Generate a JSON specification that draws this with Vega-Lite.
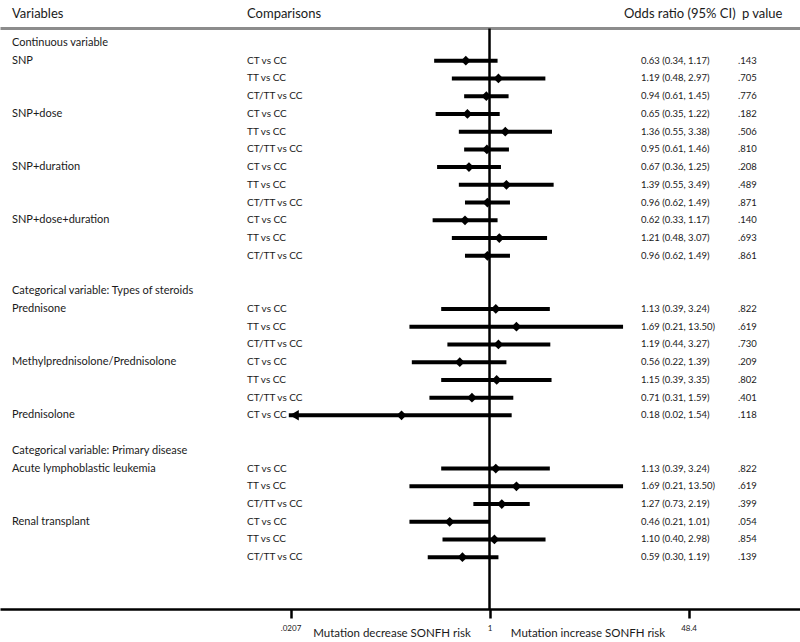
{
  "$schema": "https://vega.github.io/schema/vega-lite/v6.json",
  "width": 800,
  "height": 609,
  "autosize": {"type": "none"},
  "padding": {"left": 0, "top": 0, "right": 0, "bottom": 33},
  "config": {"view": {"stroke": null}, "font": "Lato", "text": {"font": "Lato", "color": "#1a1a1a"}},
  "datasets": {
    "rows": [
      {"r": 0, "v": "Continuous variable", "c": "", "or": null, "lo": null, "hi": null, "ci": "", "p": ""},
      {"r": 1, "v": "SNP", "c": "CT vs CC", "or": 0.63, "lo": 0.34, "hi": 1.17, "ci": "0.63 (0.34, 1.17)", "p": ".143"},
      {"r": 2, "v": "", "c": "TT vs CC", "or": 1.19, "lo": 0.48, "hi": 2.97, "ci": "1.19 (0.48, 2.97)", "p": ".705"},
      {"r": 3, "v": "", "c": "CT/TT vs CC", "or": 0.94, "lo": 0.61, "hi": 1.45, "ci": "0.94 (0.61, 1.45)", "p": ".776"},
      {"r": 4, "v": "SNP+dose", "c": "CT vs CC", "or": 0.65, "lo": 0.35, "hi": 1.22, "ci": "0.65 (0.35, 1.22)", "p": ".182"},
      {"r": 5, "v": "", "c": "TT vs CC", "or": 1.36, "lo": 0.55, "hi": 3.38, "ci": "1.36 (0.55, 3.38)", "p": ".506"},
      {"r": 6, "v": "", "c": "CT/TT vs CC", "or": 0.95, "lo": 0.61, "hi": 1.46, "ci": "0.95 (0.61, 1.46)", "p": ".810"},
      {"r": 7, "v": "SNP+duration", "c": "CT vs CC", "or": 0.67, "lo": 0.36, "hi": 1.25, "ci": "0.67 (0.36, 1.25)", "p": ".208"},
      {"r": 8, "v": "", "c": "TT vs CC", "or": 1.39, "lo": 0.55, "hi": 3.49, "ci": "1.39 (0.55, 3.49)", "p": ".489"},
      {"r": 9, "v": "", "c": "CT/TT vs CC", "or": 0.96, "lo": 0.62, "hi": 1.49, "ci": "0.96 (0.62, 1.49)", "p": ".871"},
      {"r": 10, "v": "SNP+dose+duration", "c": "CT vs CC", "or": 0.62, "lo": 0.33, "hi": 1.17, "ci": "0.62 (0.33, 1.17)", "p": ".140"},
      {"r": 11, "v": "", "c": "TT vs CC", "or": 1.21, "lo": 0.48, "hi": 3.07, "ci": "1.21 (0.48, 3.07)", "p": ".693"},
      {"r": 12, "v": "", "c": "CT/TT vs CC", "or": 0.96, "lo": 0.62, "hi": 1.49, "ci": "0.96 (0.62, 1.49)", "p": ".861"},
      {"r": 14, "v": "Categorical variable: Types of steroids", "c": "", "or": null, "lo": null, "hi": null, "ci": "", "p": ""},
      {"r": 15, "v": "Prednisone", "c": "CT vs CC", "or": 1.13, "lo": 0.39, "hi": 3.24, "ci": "1.13 (0.39, 3.24)", "p": ".822"},
      {"r": 16, "v": "", "c": "TT vs CC", "or": 1.69, "lo": 0.21, "hi": 13.5, "ci": "1.69 (0.21, 13.50)", "p": ".619"},
      {"r": 17, "v": "", "c": "CT/TT vs CC", "or": 1.19, "lo": 0.44, "hi": 3.27, "ci": "1.19 (0.44, 3.27)", "p": ".730"},
      {"r": 18, "v": "Methylprednisolone/Prednisolone", "c": "CT vs CC", "or": 0.56, "lo": 0.22, "hi": 1.39, "ci": "0.56 (0.22, 1.39)", "p": ".209"},
      {"r": 19, "v": "", "c": "TT vs CC", "or": 1.15, "lo": 0.39, "hi": 3.35, "ci": "1.15 (0.39, 3.35)", "p": ".802"},
      {"r": 20, "v": "", "c": "CT/TT vs CC", "or": 0.71, "lo": 0.31, "hi": 1.59, "ci": "0.71 (0.31, 1.59)", "p": ".401"},
      {"r": 21, "v": "Prednisolone", "c": "CT vs CC", "or": 0.18, "lo": 0.02, "hi": 1.54, "ci": "0.18 (0.02, 1.54)", "p": ".118"},
      {"r": 23, "v": "Categorical variable: Primary disease", "c": "", "or": null, "lo": null, "hi": null, "ci": "", "p": ""},
      {"r": 24, "v": "Acute lymphoblastic leukemia", "c": "CT vs CC", "or": 1.13, "lo": 0.39, "hi": 3.24, "ci": "1.13 (0.39, 3.24)", "p": ".822"},
      {"r": 25, "v": "", "c": "TT vs CC", "or": 1.69, "lo": 0.21, "hi": 13.5, "ci": "1.69 (0.21, 13.50)", "p": ".619"},
      {"r": 26, "v": "", "c": "CT/TT vs CC", "or": 1.27, "lo": 0.73, "hi": 2.19, "ci": "1.27 (0.73, 2.19)", "p": ".399"},
      {"r": 27, "v": "Renal transplant", "c": "CT vs CC", "or": 0.46, "lo": 0.21, "hi": 1.01, "ci": "0.46 (0.21, 1.01)", "p": ".054"},
      {"r": 28, "v": "", "c": "TT vs CC", "or": 1.1, "lo": 0.4, "hi": 2.98, "ci": "1.10 (0.40, 2.98)", "p": ".854"},
      {"r": 29, "v": "", "c": "CT/TT vs CC", "or": 0.59, "lo": 0.3, "hi": 1.19, "ci": "0.59 (0.30, 1.19)", "p": ".139"}
    ]
  },
  "data": {"name": "rows"},
  "layer": [
    {
      "transform": [{"filter": "isValid(datum.or)"}],
      "mark": {"type": "rule", "color": "#000000", "strokeWidth": 4},
      "encoding": {
        "x": {"field": "lo", "type": "quantitative", "scale": {"type": "log", "domain": [7.19e-5, 424.6], "nice": false},
          "axis": {"title": null, "values": [0.0207, 1, 48.4], "labelExpr": "datum.value < 0.5 ? '.0207' : (datum.value > 2 ? '48.4' : '1')", "grid": false, "domainColor": "#000000", "domainWidth": 2.5, "tickColor": "#000000", "tickWidth": 2.5, "tickSize": 9, "labelFontSize": 8, "labelColor": "#1a1a1a", "labelPadding": 6, "labelFlush": false, "labelOverlap": false, "labelFont": "Lato"}},
        "x2": {"field": "hi"},
        "y": {"field": "r", "type": "quantitative", "scale": {"domain": [-2.425, 31.92], "reverse": true, "nice": false, "zero": false},
          "axis": {"title": null, "values": [-0.82], "grid": true, "gridColor": "#8c8c8c", "gridWidth": 3, "gridOpacity": 1, "labels": false, "ticks": false, "domain": false}}
      }
    },
    {
      "data": {"values": [{}]},
      "mark": {"type": "rule", "color": "#8c8c8c", "strokeWidth": 3, "opacity": 1},
      "encoding": {
        "x": {"datum": 7.62e-5, "type": "quantitative", "scale": {"type": "log", "domain": [7.19e-5, 424.6], "nice": false}},
        "x2": {"datum": 424.6},
        "y": {"datum": -0.82, "type": "quantitative", "scale": {"domain": [-2.425, 31.92], "reverse": true, "nice": false, "zero": false}}
      }
    },
    {
      "data": {"values": [{}]},
      "mark": {"type": "rule", "color": "#000000", "strokeWidth": 2.5},
      "encoding": {
        "x": {"datum": 1, "type": "quantitative", "scale": {"type": "log", "domain": [7.19e-5, 424.6], "nice": false}},
        "y": {"datum": -0.82, "type": "quantitative", "scale": {"domain": [-2.425, 31.92], "reverse": true, "nice": false, "zero": false}},
        "y2": {"datum": 31.92}
      }
    },
    {
      "transform": [{"filter": "isValid(datum.or)"}],
      "mark": {"type": "point", "shape": "diamond", "filled": true, "color": "#000000", "size": 95, "opacity": 1},
      "encoding": {
        "x": {"field": "or", "type": "quantitative", "scale": {"type": "log", "domain": [7.19e-5, 424.6], "nice": false}},
        "y": {"field": "r", "type": "quantitative", "scale": {"domain": [-2.425, 31.92], "reverse": true, "nice": false, "zero": false}}
      }
    },
    {
      "transform": [{"filter": "isValid(datum.lo) && datum.lo < 0.0207"}],
      "mark": {"type": "point", "shape": "triangle-left", "filled": true, "color": "#000000", "size": 110, "opacity": 1},
      "encoding": {
        "x": {"field": "lo", "type": "quantitative", "scale": {"type": "log", "domain": [7.19e-5, 424.6], "nice": false}},
        "xOffset": {"value": 5.5},
        "y": {"field": "r", "type": "quantitative", "scale": {"domain": [-2.425, 31.92], "reverse": true, "nice": false, "zero": false}}
      }
    },
    {
      "mark": {"type": "text", "align": "left", "baseline": "middle", "fontSize": 11},
      "encoding": {
        "x": {"datum": 9.08e-5, "type": "quantitative", "scale": {"type": "log", "domain": [7.19e-5, 424.6], "nice": false}},
        "y": {"field": "r", "type": "quantitative", "scale": {"domain": [-2.425, 31.92], "reverse": true, "nice": false, "zero": false}},
        "text": {"field": "v"}
      }
    },
    {
      "mark": {"type": "text", "align": "left", "baseline": "middle", "fontSize": 10},
      "encoding": {
        "x": {"datum": 0.00886, "type": "quantitative", "scale": {"type": "log", "domain": [7.19e-5, 424.6], "nice": false}},
        "y": {"field": "r", "type": "quantitative", "scale": {"domain": [-2.425, 31.92], "reverse": true, "nice": false, "zero": false}},
        "text": {"field": "c"}
      }
    },
    {
      "mark": {"type": "text", "align": "left", "baseline": "middle", "fontSize": 9.5},
      "encoding": {
        "x": {"datum": 19.16, "type": "quantitative", "scale": {"type": "log", "domain": [7.19e-5, 424.6], "nice": false}},
        "y": {"field": "r", "type": "quantitative", "scale": {"domain": [-2.425, 31.92], "reverse": true, "nice": false, "zero": false}},
        "text": {"field": "ci"}
      }
    },
    {
      "mark": {"type": "text", "align": "left", "baseline": "middle", "fontSize": 9.5},
      "encoding": {
        "x": {"datum": 126.8, "type": "quantitative", "scale": {"type": "log", "domain": [7.19e-5, 424.6], "nice": false}},
        "y": {"field": "r", "type": "quantitative", "scale": {"domain": [-2.425, 31.92], "reverse": true, "nice": false, "zero": false}},
        "text": {"field": "p"}
      }
    },
    {
      "data": {"values": [{}]},
      "mark": {"type": "text", "align": "left", "baseline": "middle", "fontSize": 13},
      "encoding": {
        "x": {"datum": 9.08e-5, "type": "quantitative", "scale": {"type": "log", "domain": [7.19e-5, 424.6], "nice": false}},
        "y": {"datum": -1.61, "type": "quantitative", "scale": {"domain": [-2.425, 31.92], "reverse": true, "nice": false, "zero": false}},
        "text": {"value": "Variables"}
      }
    },
    {
      "data": {"values": [{}]},
      "mark": {"type": "text", "align": "left", "baseline": "middle", "fontSize": 13},
      "encoding": {
        "x": {"datum": 0.00886, "type": "quantitative", "scale": {"type": "log", "domain": [7.19e-5, 424.6], "nice": false}},
        "y": {"datum": -1.61, "type": "quantitative", "scale": {"domain": [-2.425, 31.92], "reverse": true, "nice": false, "zero": false}},
        "text": {"value": "Comparisons"}
      }
    },
    {
      "data": {"values": [{}]},
      "mark": {"type": "text", "align": "left", "baseline": "middle", "fontSize": 13},
      "encoding": {
        "x": {"datum": 13.75, "type": "quantitative", "scale": {"type": "log", "domain": [7.19e-5, 424.6], "nice": false}},
        "y": {"datum": -1.61, "type": "quantitative", "scale": {"domain": [-2.425, 31.92], "reverse": true, "nice": false, "zero": false}},
        "text": {"value": "Odds ratio (95% CI)"}
      }
    },
    {
      "data": {"values": [{}]},
      "mark": {"type": "text", "align": "left", "baseline": "middle", "fontSize": 13},
      "encoding": {
        "x": {"datum": 137.0, "type": "quantitative", "scale": {"type": "log", "domain": [7.19e-5, 424.6], "nice": false}},
        "y": {"datum": -1.61, "type": "quantitative", "scale": {"domain": [-2.425, 31.92], "reverse": true, "nice": false, "zero": false}},
        "text": {"value": "p value"}
      }
    },
    {
      "data": {"values": [{}]},
      "mark": {"type": "text", "align": "center", "baseline": "middle", "fontSize": 11.5},
      "encoding": {
        "x": {"datum": 0.1495, "type": "quantitative", "scale": {"type": "log", "domain": [7.19e-5, 424.6], "nice": false}},
        "y": {"datum": 33.33, "type": "quantitative", "scale": {"domain": [-2.425, 31.92], "reverse": true, "nice": false, "zero": false}},
        "text": {"value": "Mutation decrease SONFH risk"}
      }
    },
    {
      "data": {"values": [{}]},
      "mark": {"type": "text", "align": "center", "baseline": "middle", "fontSize": 11.5},
      "encoding": {
        "x": {"datum": 6.82, "type": "quantitative", "scale": {"type": "log", "domain": [7.19e-5, 424.6], "nice": false}},
        "y": {"datum": 33.33, "type": "quantitative", "scale": {"domain": [-2.425, 31.92], "reverse": true, "nice": false, "zero": false}},
        "text": {"value": "Mutation increase SONFH risk"}
      }
    }
  ]
}
